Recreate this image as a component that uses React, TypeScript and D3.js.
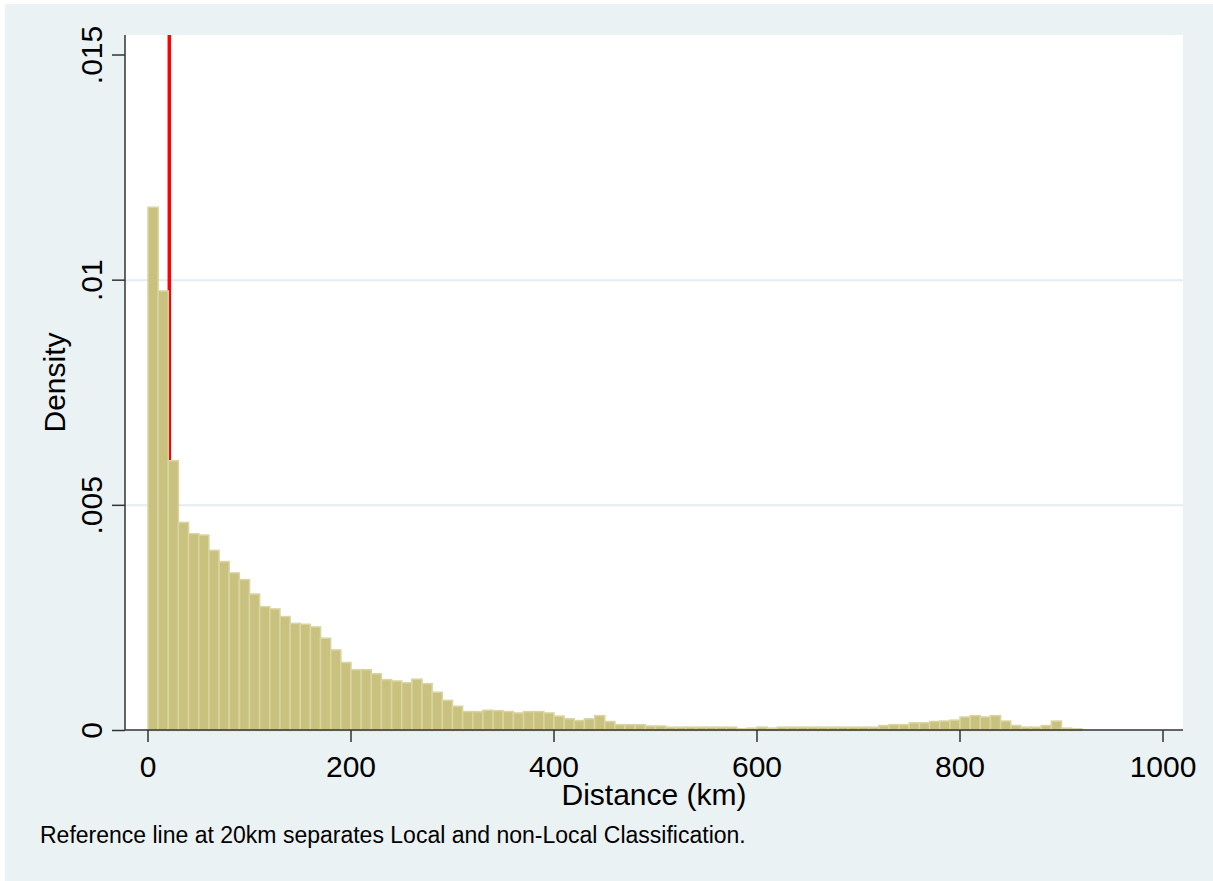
import React from 'react';
import * as d3 from 'd3';

// histogram of distances, 10 km bins starting at 0 (density per km)
const binWidth = 10;
const density = [
    0.01162, 0.00976, 0.00599, 0.00462, 0.00437, 0.00434, 0.00400, 0.00375, 0.00350, 0.00335,
    0.00303, 0.00275, 0.00270, 0.00253, 0.00238, 0.00236, 0.00230, 0.00205, 0.00179, 0.00151,
    0.00135, 0.00135, 0.00126, 0.00113, 0.00110, 0.00106, 0.00114, 0.00104, 0.00085, 0.00067,
    0.00054, 0.00042, 0.00042, 0.00045, 0.00044, 0.00042, 0.00039, 0.00042, 0.00042, 0.00039,
    0.00032, 0.00026, 0.00022, 0.00026, 0.00033, 0.00020, 0.00013, 0.00013, 0.00013, 0.00010,
    0.00010, 0.000074, 0.000074, 0.000074, 0.000074, 0.000074, 0.000074, 0.000074, 0.000037, 0.000052,
    0.000074, 0.000052, 0.000074, 0.000074, 0.000074, 0.000074, 0.000074, 0.000074, 0.000074, 0.000074,
    0.000074, 0.000074, 0.00011, 0.00013, 0.00013, 0.00017, 0.00017, 0.00020, 0.00021, 0.00023,
    0.00030, 0.00033, 0.00030, 0.00033, 0.00021, 0.00011, 0.000074, 0.000074, 0.00011, 0.00021,
    0.000052, 0.000037,
];

const xTicks = [0, 200, 400, 600, 800, 1000];
const yTicks = [0, 0.005, 0.01, 0.015];
const yTickLabels = ['0', '.005', '.01', '.015'];
const yGrid = [0.005, 0.01];
const refLine = 20;

const W = 1213;
const H = 881;
const plot = { left: 125, right: 1183, top: 35, bottom: 730 };
const font = '"Liberation Sans", Arial, sans-serif';

const App = () => {
    const x = d3.scaleLinear().domain([0, 1000]).range([148, 1163]);
    const y = d3.scaleLinear().domain([0, 0.015]).range([730.5, 55]);

    const bins = density.map((d, i) => ({ x0: i * binWidth, x1: (i + 1) * binWidth, d }));

    return (
        <svg width={W} height={H} style={{ position: 'absolute', left: 0, top: 0 }} fontFamily={font}>
            <rect x={0} y={0} width={W} height={H} fill="#ffffff" />
            <rect x={5} y={4} width={W - 5} height={H - 4} fill="#eaf2f3" />
            <rect x={plot.left} y={plot.top} width={plot.right - plot.left} height={plot.bottom - plot.top} fill="#ffffff" />

            {/* grid */}
            {yGrid.map(t => (
                <line key={t} x1={plot.left} x2={plot.right} y1={y(t)} y2={y(t)} stroke="#e3edf0" strokeWidth={2} />
            ))}

            {/* reference line drawn behind the bars */}
            <line x1={x(refLine) + 1} x2={x(refLine) + 1} y1={plot.top} y2={plot.bottom} stroke="#ff0000" strokeWidth={3.5} />

            {bins.map((b, i) => (
                <rect
                    key={i}
                    x={x(b.x0)}
                    y={y(b.d)}
                    width={x(b.x1) - x(b.x0)}
                    height={y(0) - y(b.d)}
                    fill="#c9c27f"
                    stroke="#d9d4a2"
                    strokeWidth={1.5}
                />
            ))}

            {/* axes */}
            <line x1={plot.left} x2={plot.left} y1={plot.top} y2={plot.bottom} stroke="#333" strokeWidth={1.5} />
            <line x1={plot.left} x2={plot.right} y1={plot.bottom} y2={plot.bottom} stroke="#333" strokeWidth={1.5} />

            {yTicks.map((t, i) => (
                <g key={t}>
                    <line x1={112} x2={plot.left} y1={y(t)} y2={y(t)} stroke="#333" strokeWidth={1.5} />
                    <text transform={`translate(102,${y(t)}) rotate(-90)`} textAnchor="middle" fontSize={30} fill="#000">
                        {yTickLabels[i]}
                    </text>
                </g>
            ))}

            {xTicks.map(t => (
                <g key={t}>
                    <line x1={x(t)} x2={x(t)} y1={plot.bottom} y2={742} stroke="#333" strokeWidth={1.5} />
                    <text x={x(t)} y={777} textAnchor="middle" fontSize={30} fill="#000">{t}</text>
                </g>
            ))}

            <text transform={`translate(65,${(plot.top + plot.bottom) / 2}) rotate(-90)`} textAnchor="middle" fontSize={30} fill="#000">
                Density
            </text>
            <text x={(plot.left + plot.right) / 2} y={805} textAnchor="middle" fontSize={30} fill="#000">
                Distance (km)
            </text>
            <text x={40} y={843} fontSize={23} fill="#000">
                Reference line at 20km separates Local and non-Local Classification.
            </text>
        </svg>
    );
};

export default App;
